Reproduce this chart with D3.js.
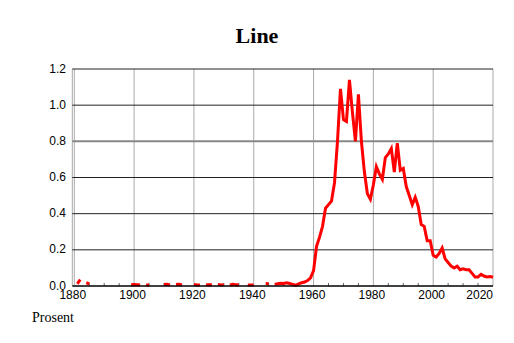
<!DOCTYPE html>
<html>
<head>
<meta charset="utf-8">
<title>Line</title>
<script src="https://cdn.jsdelivr.net/npm/d3@7"></script>
<style>
  body { margin: 0; background: #fff; }
  .tick-label { font-family: "Liberation Sans", Arial, sans-serif; font-size: 12px; fill: #000; }
  .title { font-family: "Liberation Serif", "Times New Roman", serif; font-weight: bold; font-size: 22px; }
  .ylabel { font-family: "Liberation Serif", "Times New Roman", serif; font-size: 14px; }
</style>
</head>
<body>
<div id="chart"></div>
<script>
// share (percent) per year, null = no data that year
const firstYear = 1880;
const lastYear = 2020;
const percent = [
  null, 0.012, 0.035, null, 0.018, 0.012, null, null, null, null,      // 1880-1889
  null, null, null, null, null, null, null, null, null, 0.007,          // 1890-1899
  0.008, 0.007, 0.006, null, 0.006, 0.005, null, null, null, null,      // 1900-1909
  0.008, 0.010, 0.006, null, 0.008, 0.010, 0.006, null, null, null,     // 1910-1919
  0.009, 0.006, 0.005, null, 0.007, 0.005, 0.008, null, 0.008, 0.006,   // 1920-1929
  0.007, null, 0.006, 0.009, 0.007, 0.005, null, null, 0.006, 0.005,    // 1930-1939
  0.006, null, null, null, 0.014, 0.012, null, 0.008, 0.012, 0.015,     // 1940-1949
  0.014, 0.018, 0.014, 0.009, 0.004, 0.012, 0.018, 0.022, 0.030, 0.045, // 1950-1959
  0.085, 0.22, 0.27, 0.33, 0.43, 0.45, 0.47, 0.57, 0.80, 1.09,          // 1960-1969
  0.92, 0.91, 1.14, 0.96, 0.80, 1.06, 0.80, 0.63, 0.51, 0.48,           // 1970-1979
  0.56, 0.66, 0.62, 0.59, 0.71, 0.73, 0.76, 0.63, 0.79, 0.64,           // 1980-1989
  0.65, 0.55, 0.50, 0.45, 0.49, 0.44, 0.34, 0.33, 0.25, 0.25,           // 1990-1999
  0.17, 0.16, 0.18, 0.21, 0.15, 0.13, 0.11, 0.10, 0.11, 0.09,           // 2000-2009
  0.095, 0.09, 0.09, 0.07, 0.05, 0.05, 0.065, 0.055, 0.05, 0.052,       // 2010-2019
  0.048                                                                 // 2020
];
const years = d3.range(firstYear, lastYear + 1);
const yTicks = [0, 0.2, 0.4, 0.6, 0.8, 1.0, 1.2];
const xMajor = [1880, 1900, 1920, 1940, 1960, 1980, 2000, 2020];
const titleText = "Line";
const yTitle = "Prosent";

const W = 514, H = 343;
const plotLeft = 72.3, plotRight = 493, plotTop = 69, plotBottom = 286;

const svg = d3.select("#chart").append("svg")
  .attr("width", W).attr("height", H);

const x = d3.scaleLinear().domain([1879.33, 2020]).range([plotLeft, plotRight]);
const y = d3.scaleLinear().domain([0, 1.2]).range([plotBottom, plotTop]);

// vertical grid lines
svg.append("g").selectAll("line")
  .data(xMajor)
  .join("line")
  .attr("x1", d => x(d)).attr("x2", d => x(d))
  .attr("y1", plotTop).attr("y2", plotBottom)
  .attr("stroke", "#aaa").attr("stroke-width", 1);

svg.append("line")
  .attr("x1", plotLeft).attr("x2", plotLeft).attr("y1", plotTop).attr("y2", plotBottom)
  .attr("stroke", "#aaa").attr("stroke-width", 1);

// horizontal grid lines
svg.append("g").selectAll("line")
  .data(yTicks.filter(d => d > 0))
  .join("line")
  .attr("x1", plotLeft).attr("x2", plotRight)
  .attr("y1", d => y(d)).attr("y2", d => y(d))
  .attr("stroke", d => Math.abs(d - 0.8) < 1e-6 ? "#888" : "#222")
  .attr("stroke-width", d => Math.abs(d - 0.8) < 1e-6 ? 2 : 1);

// minor ticks every 5 years
const minor = d3.range(1885, 2020, 5).filter(d => xMajor.indexOf(d) < 0);
svg.append("g").selectAll("line")
  .data(minor)
  .join("line")
  .attr("x1", d => x(d)).attr("x2", d => x(d))
  .attr("y1", plotBottom - 3).attr("y2", plotBottom)
  .attr("stroke", "#666").attr("stroke-width", 1);

// y tick labels
svg.append("g").selectAll("text")
  .data(yTicks)
  .join("text")
  .attr("class", "tick-label")
  .attr("x", 66).attr("y", d => y(d) + 3.5)
  .attr("text-anchor", "end")
  .text(d => d.toFixed(1));

// x tick labels
svg.append("g").selectAll("text")
  .data(xMajor)
  .join("text")
  .attr("class", "tick-label")
  .attr("x", (d, i) => i === xMajor.length - 1 ? plotRight : x(d) - 1.5)
  .attr("y", 299)
  .attr("text-anchor", (d, i) => i === xMajor.length - 1 ? "end" : "middle")
  .text(d => d);

// the data line
const line = d3.line()
  .defined((d, i) => percent[i] !== null)
  .x((d, i) => x(years[i]))
  .y((d, i) => y(percent[i]));

svg.append("path")
  .datum(years)
  .attr("d", line)
  .attr("fill", "none")
  .attr("stroke", "#ff0000")
  .attr("stroke-width", 3)
  .attr("stroke-linejoin", "miter");

// baseline
svg.append("line")
  .attr("x1", plotLeft).attr("x2", plotRight).attr("y1", plotBottom).attr("y2", plotBottom)
  .attr("stroke", "#000").attr("stroke-width", 1.5);

svg.append("text")
  .attr("class", "title")
  .attr("x", 257).attr("y", 43)
  .attr("text-anchor", "middle")
  .text(titleText);

svg.append("text")
  .attr("class", "ylabel")
  .attr("x", 32).attr("y", 322)
  .text(yTitle);
</script>
</body>
</html>
